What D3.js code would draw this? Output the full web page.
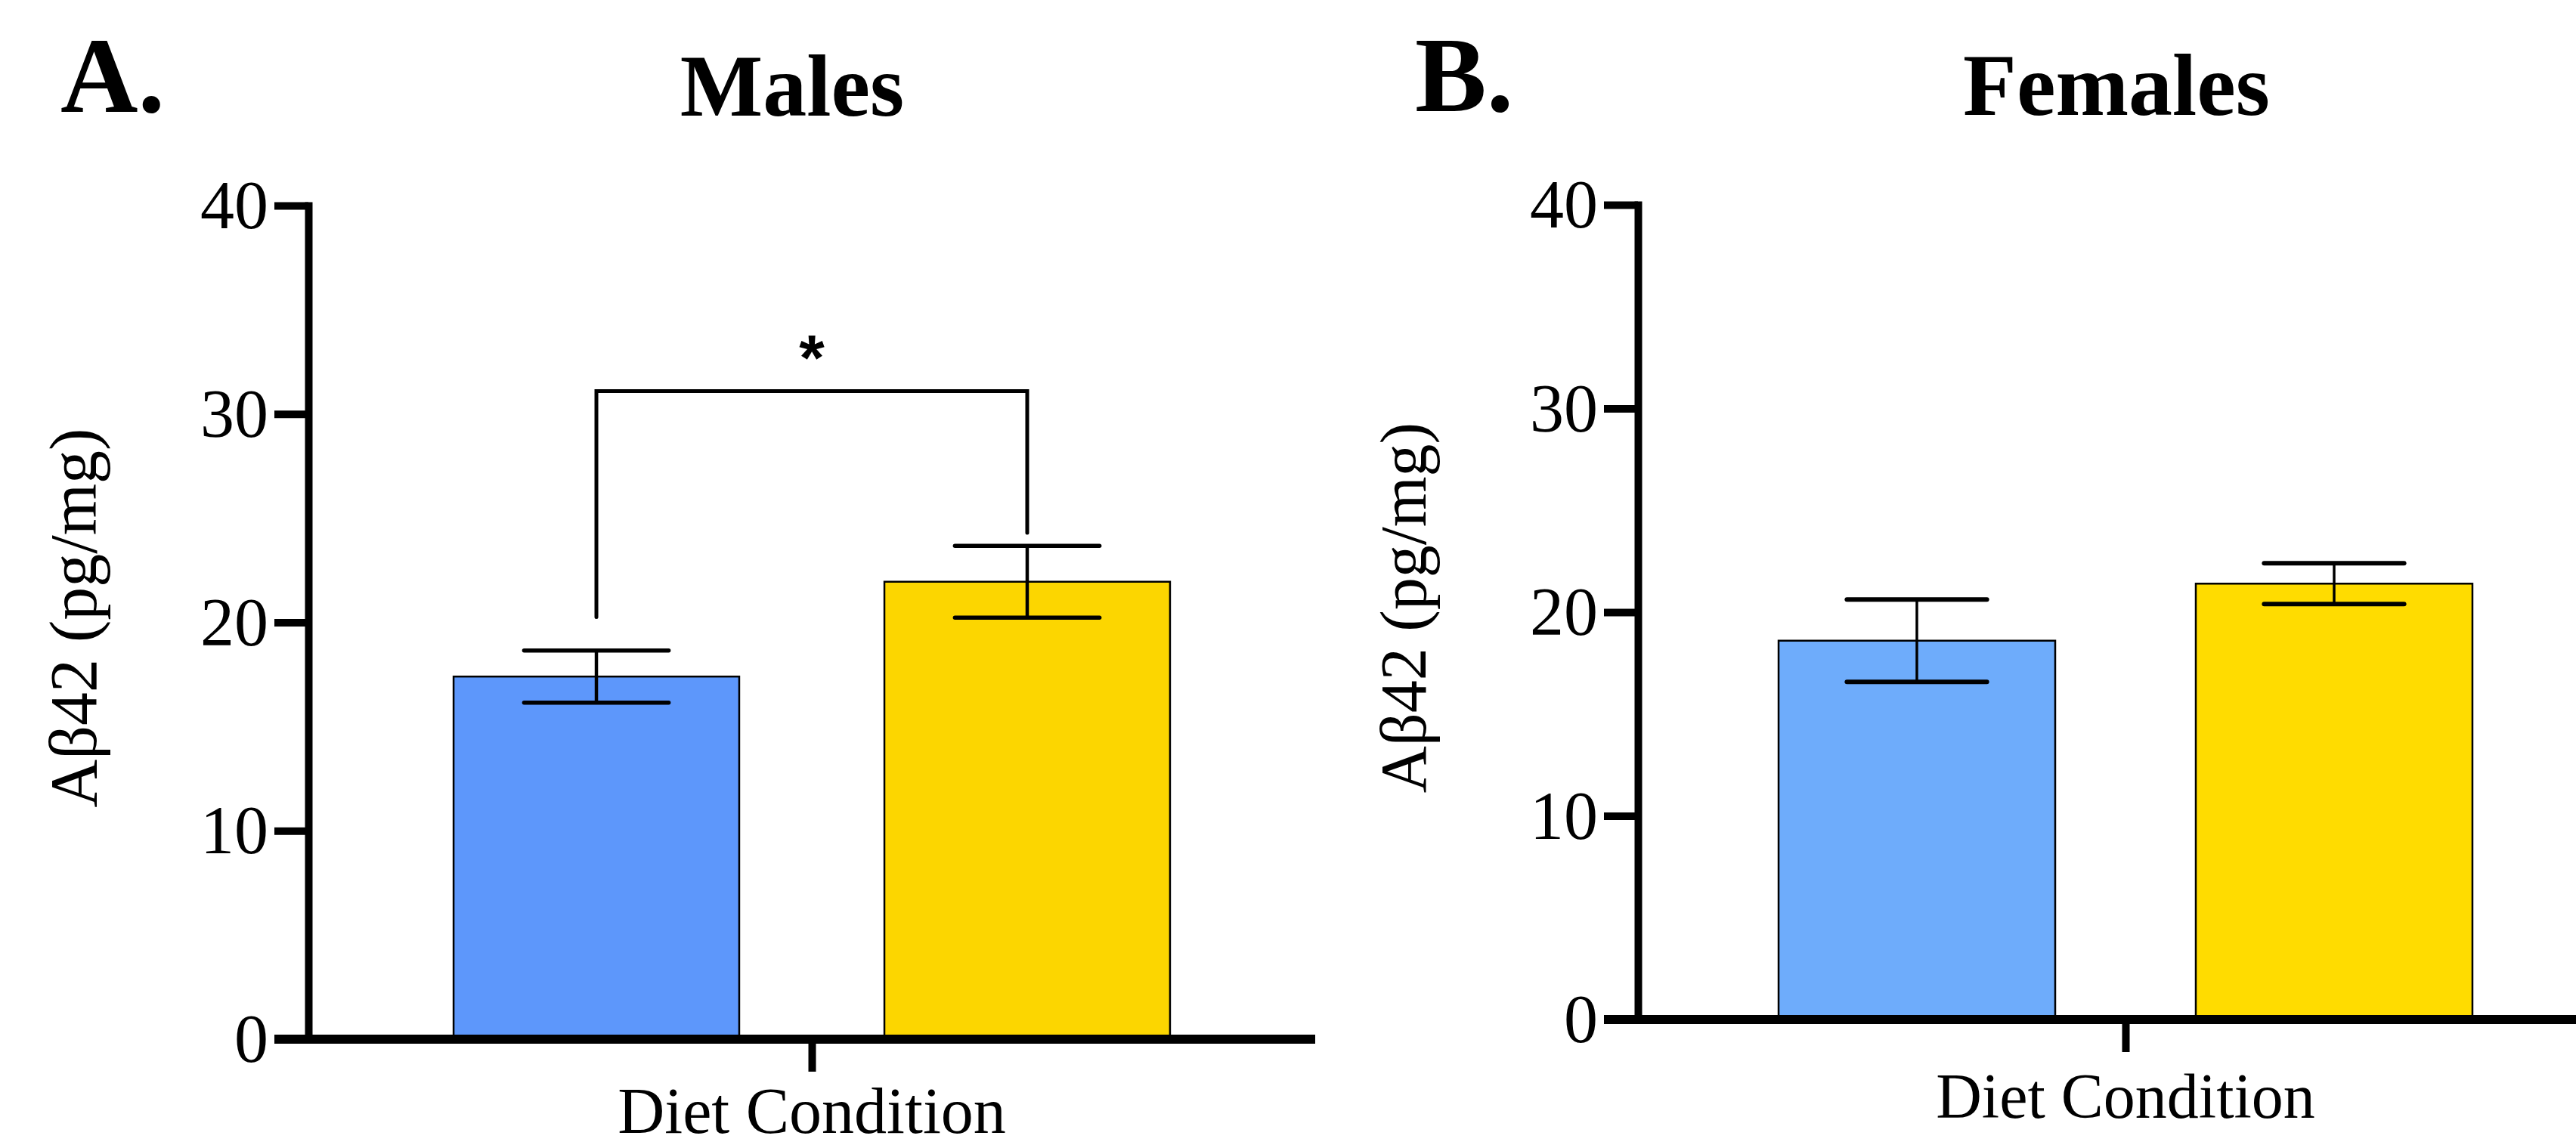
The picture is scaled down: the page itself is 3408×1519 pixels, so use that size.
<!DOCTYPE html>
<html>
<head>
<meta charset="utf-8">
<script src="https://cdn.jsdelivr.net/npm/d3@7"></script>
<style>
  body { margin: 0; background: #fff; }
  text { font-family: "Liberation Serif", "Times New Roman", serif; fill: #000; }
</style>
</head>
<body>
<div id="chart"></div>
<script>
// groups on the x axis (two diet groups, unlabelled in the figure)
const groups = ["Group 1", "Group 2"];
const yTicks = [0, 10, 20, 30, 40];

// males
const maleMeans = [17.4, 21.95];
const maleSem = [1.25, 1.72];
const maleColors = ["#5d97fb", "#fcd600"];
// significance bracket between the two male bars
const maleSig = { label: "*", top: 31.1, legs: [20.25, 24.3] };

// females
const femaleMeans = [18.6, 21.4];
const femaleSem = [2.02, 1.0];
const femaleColors = ["#6eacfb", "#ffdc00"];

const yLabel = "Aβ42 (pg/mg)";
const xLabel = "Diet Condition";

const width = 3408, height = 1519;
const svg = d3.select("#chart").append("svg")
  .attr("width", width)
  .attr("height", height);

function drawPanel(p) {
  const x = d3.scaleBand().domain(groups).range([p.left, p.right]).padding(0.337);
  const y = d3.scaleLinear().domain([0, 40]).range([p.bottom, p.top]);
  const g = svg.append("g");

  // bars
  g.selectAll("rect.bar")
    .data(groups)
    .join("rect")
    .attr("class", "bar")
    .attr("x", d => x(d))
    .attr("y", (d, i) => y(p.means[i]))
    .attr("width", x.bandwidth())
    .attr("height", (d, i) => y(0) - y(p.means[i]))
    .attr("fill", (d, i) => p.colors[i])
    .attr("stroke", "#000")
    .attr("stroke-width", 2.5);

  // error bars
  const cap = x.bandwidth() * 0.253;
  groups.forEach((d, i) => {
    const cx = x(d) + x.bandwidth() / 2;
    const hi = y(p.means[i] + p.sem[i]);
    const lo = y(p.means[i] - p.sem[i]);
    g.append("line")
      .attr("x1", cx).attr("x2", cx).attr("y1", hi).attr("y2", lo)
      .attr("stroke", "#000").attr("stroke-width", p.stemW);
    [hi, lo].forEach(yy => {
      g.append("line")
        .attr("x1", cx - cap).attr("x2", cx + cap).attr("y1", yy).attr("y2", yy)
        .attr("stroke", "#000").attr("stroke-width", p.capW)
        .attr("stroke-linecap", "round");
    });
  });

  // significance bracket
  if (p.sig) {
    const x0 = x(groups[0]) + x.bandwidth() / 2;
    const x1 = x(groups[1]) + x.bandwidth() / 2;
    g.append("path")
      .attr("d", `M${x0},${y(p.sig.legs[0])}V${y(p.sig.top)}H${x1}V${y(p.sig.legs[1])}`)
      .attr("fill", "none").attr("stroke", "#000").attr("stroke-width", 5)
      .attr("stroke-linecap", "round");
    g.append("text")
      .attr("x", (x0 + x1) / 2)
      .attr("y", y(p.sig.top) - 14)
      .attr("text-anchor", "middle")
      .style("font-family", "'Liberation Sans', Arial, sans-serif")
      .style("font-weight", "bold")
      .style("font-size", "86px")
      .text(p.sig.label);
  }

  // y axis
  const yAxis = g.append("g")
    .attr("transform", `translate(${p.left},0)`)
    .call(d3.axisLeft(y).tickValues(yTicks).tickSize(45).tickSizeOuter(0).tickPadding(8));
  yAxis.select(".domain")
    .attr("stroke", "#000").attr("stroke-width", 10).attr("stroke-linecap", "square");
  yAxis.selectAll(".tick line").attr("stroke", "#000").attr("stroke-width", 10);
  yAxis.selectAll(".tick text")
    .style("font-family", "'Liberation Serif', 'Times New Roman', serif")
    .style("font-size", "90px")
    .attr("dy", "0.33em");

  // x axis: one centred tick, no label
  const xc = d3.scalePoint().domain([xLabel]).range([p.left, p.right]).padding(0.5);
  const xAxis = g.append("g")
    .attr("transform", `translate(0,${y(0)})`)
    .call(d3.axisBottom(xc).tickSize(43).tickSizeOuter(0).tickFormat(""));
  xAxis.select(".domain").remove();
  xAxis.selectAll(".tick line").attr("stroke", "#000").attr("stroke-width", 10);
  g.append("line")
    .attr("x1", p.left - 45).attr("x2", p.right)
    .attr("y1", y(0)).attr("y2", y(0))
    .attr("stroke", "#000").attr("stroke-width", 12);

  // axis titles
  g.append("text")
    .attr("transform", `translate(${p.left - 281},${(p.top + p.bottom) / 2 - 6}) rotate(-90)`)
    .attr("text-anchor", "middle")
    .style("font-size", p.labelSize + "px")
    .text(yLabel);
  g.append("text")
    .attr("x", xc(xLabel))
    .attr("y", Math.min(y(0) + 130, height - 20))
    .attr("text-anchor", "middle")
    .style("font-size", p.labelSize - 2 + "px")
    .text(xLabel);

  // panel title and letter
  g.append("text")
    .attr("x", p.titleX).attr("y", p.titleY)
    .attr("text-anchor", "middle")
    .style("font-weight", "bold").style("font-size", "116px")
    .text(p.title);
  g.append("text")
    .attr("x", p.letterX).attr("y", p.letterY)
    .style("font-weight", "bold").style("font-size", "142px")
    .text(p.letter);
}

drawPanel({
  letter: "A.", title: "Males",
  means: maleMeans, sem: maleSem, colors: maleColors, sig: maleSig,
  left: 408, right: 1740, top: 272, bottom: 1375,
  titleX: 1048, titleY: 153, letterX: 80, letterY: 148,
  labelSize: 88, capW: 5.5, stemW: 4.5
});

drawPanel({
  letter: "B.", title: "Females",
  means: femaleMeans, sem: femaleSem, colors: femaleColors, sig: null,
  left: 2167, right: 3457, top: 271, bottom: 1349,
  titleX: 2800, titleY: 152, letterX: 1872, letterY: 147,
  labelSize: 86, capW: 6, stemW: 3.5
});
</script>
</body>
</html>
